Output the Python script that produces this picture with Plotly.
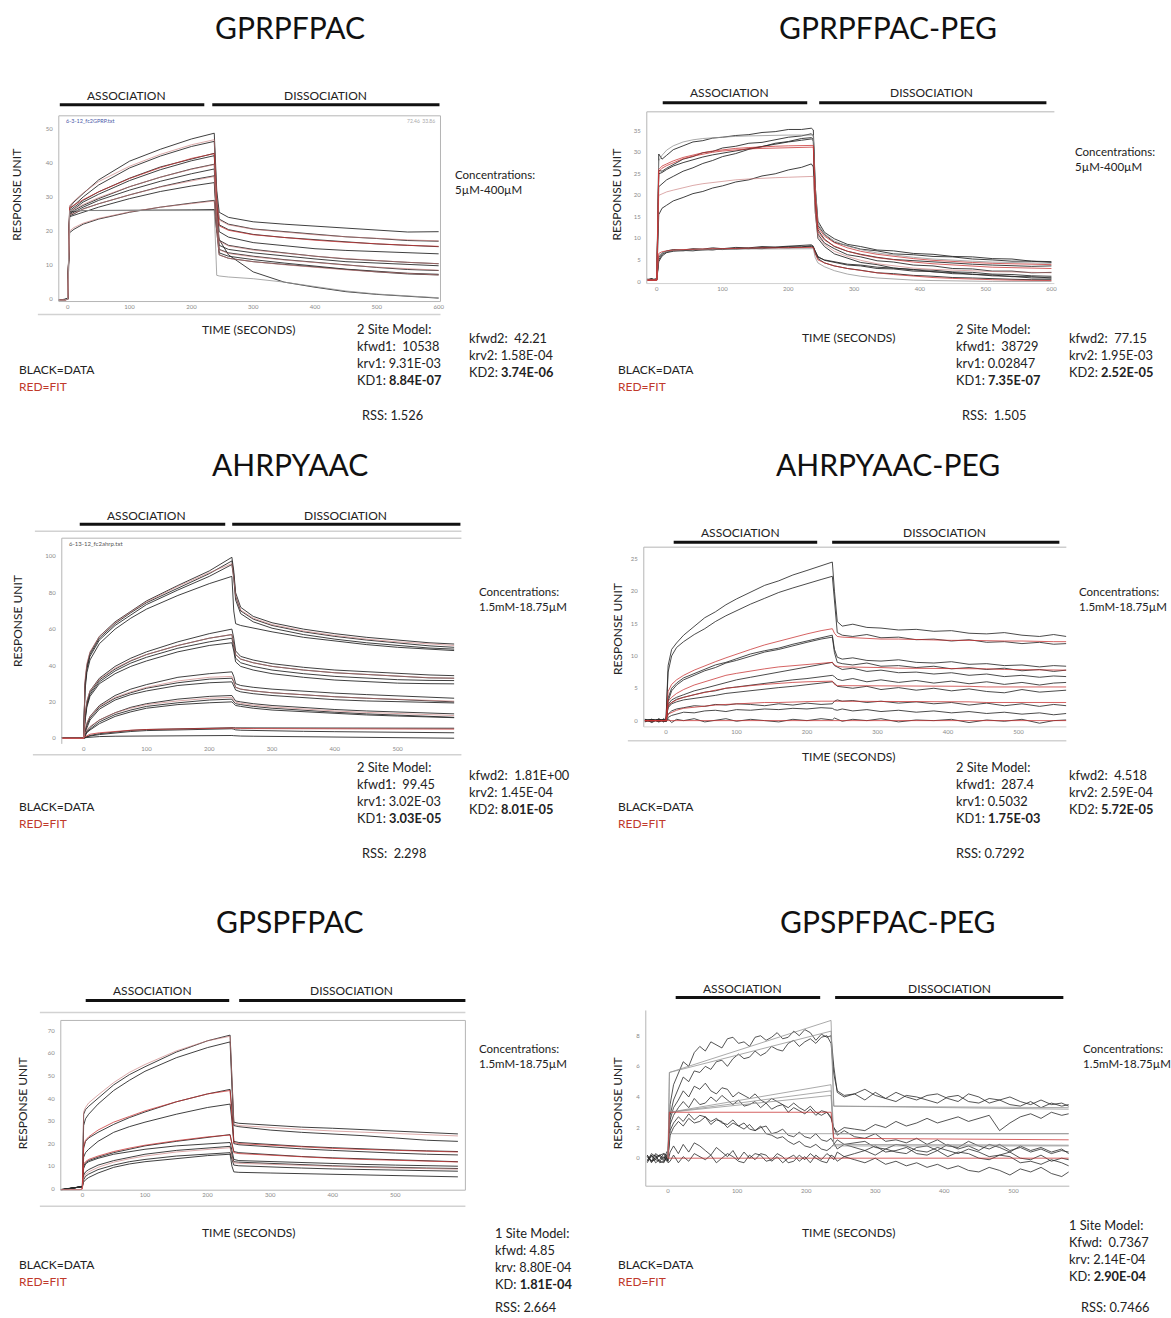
import plotly.graph_objects as go

W, H = 1171, 1318

# ======================= DATA =======================
# Panel 1: GPRPFPAC
t1 = [-15, -5, 0, 3, 10, 25, 50, 100, 150, 200, 237, 241, 245, 260, 300, 350, 400, 450, 500, 550, 600]
p1_data = [
    [-0.3,-0.2,0.0,27.0,28.5,31.0,35.0,40.5,44.0,47.0,48.7,32.0,25.5,24.0,22.7,22.0,21.4,20.9,20.3,19.7,19.8],
    [-0.2,-0.3,0.1,26.5,27.5,30.0,33.5,38.5,42.0,44.8,46.3,30.0,23.5,22.0,20.6,19.8,18.9,18.3,17.8,17.2,17.0],
    [-0.3,-0.1,0.0,26.0,27.0,29.0,31.5,35.5,38.8,41.2,42.8,28.5,21.8,20.4,19.0,18.1,17.4,16.8,16.2,15.8,15.4],
    [-0.2,-0.2,0.0,25.5,26.5,28.5,30.8,34.8,38.0,40.6,42.1,27.0,19.8,18.2,16.6,15.6,14.8,14.3,13.9,13.6,13.3],
    [-0.3,-0.2,0.1,25.0,26.0,27.5,29.5,33.0,35.8,38.2,39.6,25.0,17.3,15.8,14.6,13.5,12.6,11.8,11.2,10.8,10.4],
    [-0.2,-0.1,0.0,24.8,25.5,27.0,29.0,32.0,34.6,36.8,38.2,24.0,15.8,14.6,13.6,12.6,11.8,11.0,10.6,10.2,9.8],
    [-0.3,-0.2,0.0,24.5,25.0,26.5,28.0,30.6,33.0,35.0,36.2,23.0,14.6,13.6,12.6,11.6,10.8,10.0,9.3,8.7,8.4],
    [-0.2,-0.1,0.0,24.2,24.6,25.6,27.0,29.5,31.6,33.2,34.2,22.0,13.6,12.6,11.6,10.6,9.6,8.8,8.2,7.6,7.3],
    [-0.3,-0.2,0.0,19.5,20.5,22.0,23.5,25.5,27.0,28.2,29.0,20.0,13.0,12.0,11.0,10.2,9.4,8.6,8.0,7.4,7.1],
    [-0.3,-0.2,0.0,25.5,25.8,26.0,26.0,26.1,26.2,26.2,26.3,20.0,17.5,13.0,8.0,5.0,3.5,2.2,1.4,0.8,0.3],
]
p1_fit = [
    [-0.3,-0.3,0.0,27.5,28.8,31.2,34.5,39.0,42.5,45.3,46.8,30.0,23.2,21.8,20.5,19.6,18.9,18.3,17.8,17.4,17.1],
    [-0.3,-0.3,0.0,26.8,27.6,29.2,31.5,35.4,38.6,41.3,42.7,28.0,21.5,20.2,18.9,18.0,17.3,16.7,16.2,15.8,15.5],
    [-0.3,-0.3,0.0,25.8,26.4,27.8,29.8,33.0,35.8,38.1,39.5,25.0,17.0,15.6,14.4,13.4,12.6,11.9,11.3,10.8,10.4],
    [-0.3,-0.3,0.0,24.8,25.2,26.4,28.0,30.6,32.9,34.8,36.0,23.0,14.5,13.4,12.4,11.5,10.7,10.0,9.4,8.9,8.5],
    [-0.3,-0.3,0.0,20.0,21.0,22.3,23.7,25.6,27.0,28.1,28.8,20.0,13.0,12.0,11.0,10.1,9.3,8.6,8.0,7.5,7.1],
    [-0.3,-0.3,0.0,26.0,26.0,26.0,26.0,26.0,26.0,26.0,26.0,7.0,6.8,6.5,6.0,5.0,3.6,2.4,1.5,0.9,0.4],
]
p1_fit_colors = ["pink", "red", "pink", "pink", "pink", "gray"]

# Panel 2: GPRPFPAC-PEG
t2 = [-15,-8,-2,0,3,8,15,25,40,55,70,85,100,120,140,160,180,200,220,235,238,241,245,255,270,290,310,335,360,390,420,450,480,510,540,570,600]
p2_data = [
    [0.4,0.6,0.3,0.5, 29.6,28.4,29.3,30.6,31.5,32.4,32.7,33.3,33.5, 33.9,34.1,34.6,34.8,35.3,35.3,35.6,35.2, 22.0,14.0,11.4,9.9,8.6,8.1,7.3,7.1, 6.5,6.3,5.8,5.7,5.3,5.2,4.7,4.6],
    [0.3,0.5,0.4,0.6, 25.8,25.6,26.3,27.2,28.4,29.0,29.9,30.2,31.0, 31.4,32.1,32.3,32.9,33.5,33.8,34.3,33.8, 21.0,13.0,10.9,9.1,8.3,7.5,7.1,6.4, 6.2,5.8,5.7,5.2,5.0,4.7,4.7,4.4],
    [0.5,0.3,0.6,0.4, 25.0,25.3,26.0,26.8,27.6,28.3,28.9,29.4,29.8, 30.4,30.9,31.5,31.9,32.4,32.8,33.1,32.7, 19.5,12.0,9.8,8.1,7.0,6.3,5.6,5.1, 4.8,4.5,4.2,4.0,3.8,3.7,3.5,3.6],
    [0.4,0.5,0.3,0.5, 22.0,22.6,23.6,24.4,25.6,26.4,27.4,28.1,29.0, 29.7,30.7,31.3,32.1,32.5,33.2,33.4,33.0, 18.0,11.0,8.9,7.6,6.2,5.7,4.8,4.5, 3.8,3.6,3.0,2.9,2.4,2.4,2.0,2.1],
    [0.3,0.6,0.4,0.5, 15.5,17.0,17.7,18.7,19.5,20.4,20.9,21.7,22.2, 23.1,23.6,24.5,25.0,25.9,26.5,27.3,26.6, 16.0,10.0,8.1,6.4,5.4,4.4,3.9,3.1, 2.8,2.2,2.1,1.6,1.5,1.1,1.1,0.8],
    [0.4,0.3,0.5,0.6, 5.0,6.3,6.8,7.2,7.1,7.4,7.3,7.5,7.4, 7.7,7.6,7.9,7.8,8.1,8.0,8.3,8.0, 7.0,5.8,4.9,4.5,3.8,3.6,3.0,2.9, 2.4,2.3,1.8,1.7,1.3,1.2,0.8,0.8],
    [0.5,0.4,0.3,0.4, 5.6,6.6,7.1,7.4,7.3,7.6,7.5,7.8,7.6, 7.9,7.8,8.1,8.0,8.2,8.3,8.5,8.2, 6.5,5.3,4.3,3.6,3.0,2.6,2.0,1.8, 1.4,1.2,0.9,0.8,0.6,0.5,0.4,0.4],
    [0.3,0.5,0.4,0.3, 4.6,5.9,6.7,7.0,7.2,7.1,7.4,7.3,7.6, 7.5,7.7,7.6,7.9,7.8,8.0,8.1,7.9, 6.8,5.6,5.0,4.6,4.0,3.8,3.3,3.1, 2.7,2.6,2.2,2.1,1.7,1.6,1.3,1.2],
]
p2_fit = [
    [0.3,0.3,0.3,0.3, 28.0,29.3,30.5,31.5,32.4,32.9,33.2,33.4,33.6, 33.7,33.8,33.9,33.9,34.0,34.0,34.0,34.0, 22.0,13.5,11.0,9.4,8.2,7.4,6.6,6.1, 5.6,5.2,4.9,4.7,4.5,4.4,4.3,4.2],
    [0.3,0.3,0.3,0.3, 20.0,20.4,20.8,21.2,21.8,22.3,22.7,23.0,23.3, 23.6,23.8,24.0,24.1,24.2,24.3,24.4,24.4, 16.0,10.5,8.6,7.0,5.8,4.9,4.1,3.6, 3.1,2.8,2.6,2.4,2.3,2.2,2.1,2.0],
    [0.3,0.3,0.3,0.3, 6.0,6.6,7.0,7.2,7.3,7.4,7.4,7.5,7.5, 7.5,7.6,7.6,7.6,7.6,7.6,7.6,7.6, 5.5,4.3,3.4,2.5,1.7,1.2,0.8,0.5, 0.3,0.2,0.1,0.1,0.0,0.0,0.0,0.0],
    [0.3,0.3,0.3,0.3, 26.0,26.8,27.3,28.0,28.8,29.4,29.9,30.3,30.6, 30.9,31.1,31.3,31.4,31.5,31.6,31.6,31.6, 20.0,12.5,10.5,9.0,7.8,7.0,6.3,5.8, 5.3,4.9,4.6,4.4,4.2,4.1,4.0,3.9],
    [0.3,0.3,0.3,0.3, 25.5,26.3,26.9,27.6,28.5,29.1,29.6,30.0,30.3, 30.6,30.8,30.9,31.0,31.1,31.1,31.2,31.2, 19.0,11.5,9.6,8.2,7.0,6.2,5.5,5.0, 4.5,4.1,3.8,3.5,3.3,3.2,3.1,3.0],
    [0.3,0.3,0.3,0.3, 6.5,6.9,7.1,7.3,7.4,7.5,7.5,7.6,7.6, 7.7,7.7,7.8,7.8,7.8,7.9,7.9,7.9, 6.5,5.0,4.3,3.6,3.0,2.5,2.0,1.6, 1.2,0.9,0.7,0.5,0.4,0.3,0.2,0.2],
]
p2_fit_colors = ["gray", "pink", "gray", "red", "red", "red"]

# Panel 3: AHRPYAAC
t3 = [-35,-20,-5,0,2,5,10,25,50,75,100,150,200,236,239,242,250,270,300,350,400,450,500,550,590]
p3_data = [
    [0.3,0.1,0.2,0, 30,40,47,56,64,70,75.5,84,92,99.5, 92,80,72,67,63.5,60,57.5,55.5,54,52.5,51.8],
    [0.3,0.1,0.2,0, 29,39,46,55,63,69,74.5,82.5,90.5,97.5, 90,78,70,65.5,62,58.5,56,54,52.2,50.8,50],
    [0.3,0.1,0.2,0, 28,38,45,54,62,68,73.5,81.5,89,95.5, 88,76,68.5,64,60.5,57,54.5,52.5,51,49.6,49],
    [0.3,0.1,0.2,0, 26,36,43,52,60,66,71,78.5,85,89, 70,63,62,60.5,58.5,55.5,53.5,51.5,50,48.8,48.2],
    [0.3,0.1,0.2,0, 12,20,26,33,39.5,44,47.5,53,57.5,60, 55,48,45,43,41,39,37.5,36.5,35.5,34.8,34.4],
    [0.3,0.1,0.2,0, 11,19,25,32,38,42.5,46,51,55,57, 52,46,43.5,41.5,39.5,37.5,36,35,34,33.2,33],
    [0.3,0.1,0.2,0, 10,18,24,31,37,41.3,44.5,49.5,53,55, 50,44,41.5,39.5,37.5,35.5,34,33,32.2,31.8,31.7],
    [0.3,0.1,0.2,0, 9,17,23,30,35.5,39.5,42.5,47.5,51,52.5, 48,42,39.5,37.5,35.5,33.5,32,31,30.3,30,29.9],
    [0.3,0.1,0.2,0, 4,8,12,18,23.5,27,29.5,33.5,35.5,36.5, 34,30,29,28,27,25.8,24.8,24,23.3,22.6,22],
    [0.3,0.1,0.2,0, 3.5,7,11,17,22,25,27.5,30.5,32.5,33, 31,28,27,26,25,23.8,22.8,22,21.3,20.6,20],
    [0.3,0.1,0.2,0, 3,6,10,16,21,24,26,29,30.5,31, 29,26.5,25.5,24.5,23.5,22.2,21.2,20.5,20,19.6,19.4],
    [0.3,0.1,0.2,0, 2,4,6,10,14,17,19,21.5,23,23.5, 22,20.5,20,19,18,16.8,15.8,15,14.3,13.8,13.4],
    [0.3,0.1,0.2,0, 1.5,3.5,5,9,13,15.5,17.5,19.5,21,21.5, 20,19,18.5,17.5,16.5,15.3,14.3,13.4,12.6,12,11.5],
    [0.3,0.1,0.2,0, 1,3,4.5,8,12,14.5,16.5,18.5,19.5,20, 19,18,17.5,16.5,15.5,14.5,13.5,12.8,12.2,11.7,11.3],
    [0.3,0.1,0.2,0, 0.5,1,1.5,2.5,3.5,4.3,4.8,5.3,5.6,5.8, 5.8,5.7,5.7,5.6,5.6,5.6,5.5,5.5,5.5,5.5,5.5],
    [0.3,0.1,0.2,0, 0.3,0.7,1.2,2,3,3.7,4.2,4.7,5,5.2, 5,4.6,4.4,4.2,4,3.8,3.6,3.4,3.2,3.1,3],
    [0.3,0.1,0.2,0, 0.2,0.4,0.6,0.9,1.1,1.2,1.3,1.4,1.5,1.5, 1.4,1.3,1.2,1.1,1.0,0.8,0.6,0.5,0.3,0.1,0],
]
p3_fit = [
    [0,0,0,0, 32,41,47.5,56,63.5,69.5,75,83.5,91,96, 88,78,70.5,66,62.5,59,56.5,54.5,53,51.8,51],
    [0,0,0,0, 13,20.5,26,32.5,38.5,42.8,46,51,55,57, 51,46,43.5,41.5,39.5,37.5,36,35,34,33.3,33],
    [0,0,0,0, 5,8.5,12,17.5,22.5,25.5,28,31.5,33.5,34, 31,28,27,26,25,23.8,22.8,22,21.4,20.8,20.4],
    [0,0,0,0, 2.5,4.5,6.5,10,14,16.5,18.5,20.5,22,22.5, 21,19.8,19.2,18.2,17.2,16,15,14.2,13.5,12.9,12.5],
    [0,0,0,0, 0.8,1.5,2.2,3,3.8,4.4,4.8,5.2,5.5,5.6, 5.5,5.4,5.4,5.3,5.3,5.2,5.2,5.1,5.1,5.1,5.0],
]
p3_fit_colors = ["pink", "pink", "pink", "pink", "red"]

# Panel 4: AHRPYAAC-PEG
t4 = [-30,-20,-10,-3,0,3,8,15,25,40,55,70,85,100,120,140,160,180,200,220,236,239,243,250,265,285,305,330,355,380,405,430,455,480,505,530,550,568]
p4_data = [
    [0.2,-0.3,0.3,-0.2,0.1, 8.5,11.0,12.0,13.2,14.6,15.9,16.8,17.9,18.8, 19.8,20.9,21.6,22.5,23.2,23.9,24.5, 20.0,15.3,14.6,14.9,14.4,14.3,14.0,14.1,13.8, 13.9,13.5,13.4,13.6,13.2,13.0,13.3,13.0],
    [-0.1,0.2,-0.2,0.3,0.0, 7.5,10.0,11.3,12.2,13.3,14.2,15.3,16.2,17.0, 18.0,18.9,19.8,20.5,21.2,21.8,22.3, 18.0,13.6,13.2,13.0,13.3,12.8,12.9,12.5,12.6, 12.3,12.5,12.1,12.2,11.9,12.1,11.8,11.9],
    [0.1,-0.2,0.2,-0.1,0.0, 3.5,5.0,5.8,6.6,7.3,7.9,8.6,9.0,9.6, 10.3,10.8,11.2,11.8,12.3,12.8,13.2, 11.0,9.8,9.5,9.7,9.3,9.2,9.4,9.0,8.9, 9.1,8.7,8.8,8.5,8.6,8.3,8.5,8.4],
    [0.0,0.2,-0.1,0.1,-0.2, 3.0,4.6,5.5,6.3,7.0,7.7,8.2,8.9,9.3, 10.0,10.6,11.0,11.6,12.1,12.6,12.9, 10.5,9.0,8.8,8.6,8.9,8.4,8.5,8.2,8.4, 8.0,8.2,7.9,8.1,7.7,7.9,7.6,7.8],
    [0.2,0.0,0.1,-0.2,0.1, 2.5,3.2,3.6,4.0,4.6,5.0,5.4,5.9,6.3, 6.7,7.1,7.5,7.8,8.2,8.6,9.0, 8.5,8.3,7.9,8.1,7.6,7.8,7.4,7.5,7.2, 7.4,7.0,7.2,6.8,7.0,6.7,6.9,6.8],
    [-0.2,0.1,0.0,0.2,-0.1, 2.2,2.8,3.3,3.6,4.0,4.4,4.6,5.0,5.2, 5.5,5.8,6.0,6.3,6.5,6.8,7.0, 6.8,6.4,6.2,6.5,6.0,6.3,5.9,6.2,5.8, 6.1,5.7,6.0,5.6,5.9,5.5,5.8,5.9],
    [0.1,-0.1,0.2,0.0,0.1, 2.0,2.6,2.9,3.2,3.4,3.7,3.9,4.2,4.4, 4.6,4.9,5.1,5.3,5.5,5.8,6.0, 5.8,5.3,5.2,5.0,5.3,4.8,5.1,4.7,5.0, 4.6,4.9,4.5,4.3,4.8,4.4,4.6,4.7],
    [0.0,0.2,-0.2,0.1,0.0, 1.0,1.5,1.8,2.0,2.3,2.2,2.5,2.4,2.6, 2.5,2.3,2.6,2.4,2.7,2.5,2.6, 3.0,3.2,3.0,3.1,2.8,3.0,2.7,2.9,2.6, 2.8,2.4,2.7,2.3,2.6,2.2,2.5,2.3],
    [0.1,0.0,0.2,-0.1,0.1, 0.5,0.8,1.0,1.3,1.2,1.5,1.6,1.4,1.7, 1.6,1.8,1.7,1.9,1.8,2.0,1.9, 1.7,1.6,1.8,1.5,1.7,1.4,1.6,1.3,1.5, 1.2,1.4,1.1,1.3,1.0,1.2,0.9,1.1],
    [-0.1,0.1,0.0,0.2,-0.2, 0.3,-0.3,0.2,0.0,0.3,-0.2,0.1,0.3,-0.1, 0.2,0.0,-0.2,0.2,0.0,0.3,0.1, 0.4,0.2,-0.1,0.2,0.0,0.3,-0.2,0.1,0.0, 0.2,-0.3,0.1,-0.1,0.2,-0.4,0.0,0.1],
]
p4_fit = [
    [0,0,0,0,0, 4.5,5.6,6.3,7.0,7.8,8.5,9.1,9.7,10.3, 11.0,11.7,12.3,12.9,13.4,13.9,14.2, 13.5,13.0,12.9,12.8,12.7,12.6,12.6,12.5,12.5, 12.4,12.4,12.3,12.3,12.3,12.2,12.2,12.2],
    [0,0,0,0,0, 3.0,3.6,4.2,4.8,5.5,6.0,6.5,7.0,7.3, 7.7,8.0,8.3,8.5,8.7,8.9,9.0, 8.6,8.4,8.3,8.3,8.2,8.2,8.1,8.1,8.1, 8.0,8.0,8.0,7.9,7.9,7.9,7.9,7.8],
    [0,0,0,0,0, 2.4,2.8,3.2,3.6,4.0,4.4,4.7,5.0,5.2, 5.4,5.6,5.8,5.9,6.0,6.1,6.1, 5.6,5.4,5.4,5.4,5.4,5.3,5.3,5.3,5.3, 5.3,5.3,5.2,5.2,5.2,5.2,5.2,5.2],
    [0,0,0,0,0, 1.0,1.3,1.6,1.9,2.1,2.3,2.4,2.5,2.6, 2.7,2.8,2.8,2.9,2.9,3.0,3.0, 3.0,3.0,3.0,3.0,2.9,2.9,2.9,2.9,2.9, 2.9,2.9,2.8,2.8,2.8,2.8,2.8,2.8],
    [0,0,0,0,0, 0,0,0,0,0,0,0,0,0, 0,0,0,0,0,0,0, 0,0,0,0,0,0,0,0,0, 0,0,0,0,0,0,0,0],
]
p4_fit_colors = ["red", "red", "red", "red", "red"]

# Panel 5: GPSPFPAC
t5 = [-35,-20,-5,0,2,5,10,25,50,75,100,150,200,236,239,242,250,300,350,400,450,500,550,600]
p5_data = [
    [-0.5,0,0.8,1, 33,35,36.5,40,46,50.5,54,60.5,65.5,68, 50,29.5,29,28,27.3,26.8,26.2,25.5,25,24.3],
    [-0.5,0.2,0.8,1, 28,31,33,37.5,43.5,48,52,58,62.5,65, 45,28,27.5,26,25,24.3,23.5,22.5,21.5,21],
    [-0.3,0.2,0.7,1, 18,21,22.5,25,28.5,31.5,34,38.5,42,44, 35,21,20.5,19.5,18.8,18.2,17.6,17.2,16.8,16.5],
    [-0.4,0.1,0.6,1, 14,16,17.5,21,25,27.5,29.5,33,36,37.5, 30,20,19.5,18.5,17.7,17,16.3,15.8,15.3,15],
    [-0.5,0,0.7,1, 10,11.5,12.5,14,16,17.5,19,21,22.8,24, 20,16.5,16,15,14.3,13.7,13.2,12.8,12.4,12],
    [-0.4,0.1,0.6,1, 9,11,12,13.5,15.3,16.5,17.5,19,20,20.5, 17,13,12.5,12,11.5,11.2,10.8,10.5,10.2,10],
    [-0.5,0,0.6,1, 6,7.5,8.5,10.5,12.5,14,15.3,17,18.2,18.8, 15,12,11.8,11.2,10.7,10.2,9.8,9.4,9.2,9],
    [-0.4,0,0.7,1, 4,5.5,6.5,8.5,10.5,12,13,14.5,15.5,16, 13,10.5,10.2,9.6,9.2,8.8,8.5,8.2,8,7.8],
    [-0.5,0,0.6,1, 3,4,5,7,9.5,11,12,13.5,14.7,15.3, 10,7.5,7.3,7,6.7,6.4,6.1,5.8,5.6,5.3],
]
p5_fit = [
    [-0.5,-0.5,-0.5,0, 34,36,38,41.5,47,51.5,55,61,65.5,67.5, 45,28.5,28,27,26.3,25.6,25,24.4,23.9,23.4],
    [-0.5,-0.5,-0.5,0, 19,21.5,23,26,29.5,32,34.5,38.5,42,43.5, 32,20.5,20,19.2,18.5,17.9,17.4,17,16.6,16.3],
    [-0.5,-0.5,-0.5,0, 11,12,13,14.5,16.5,18,19.3,21.3,23,23.8, 19,16,15.6,14.8,14.1,13.5,13,12.6,12.2,11.9],
    [-0.5,-0.5,-0.5,0, 5,6.3,7.5,9.5,11.8,13.3,14.5,16.3,17.6,18.2, 14,11.5,11.3,10.8,10.3,9.9,9.5,9.2,8.9,8.7],
]
p5_fit_colors = ["pink", "red", "red", "pink"]

# Panel 6: GPSPFPAC-PEG
t6 = [-30,-24,-18,-12,-6,-2, 0,3,8,15,22, 30,38,46,54,62,70,78,86,94,102,
      110,118,126,134,142,150,158,166,174,182, 190,198,206,214,222,230,236,240,
      245,255,270,285,300,315,330,345,360,375, 390,405,420,435,450,465,480,495,510,525, 540,555,570,580]
p6_data = [
    [0.2,-0.3,0.1,0.2,-0.1,0.4, 0.5,3.5,4.8,5.6,6.3, 6.0,6.9,7.3,7.0,7.6,7.4,7.2,7.8,7.9,7.5,
     7.6,7.3,7.9,8.0,7.7,7.9,8.2,7.8,7.9,8.3, 8.0,8.4,8.2,7.7,8.1,7.9,8.0,6.0,
     4.3,4.0,4.2,4.5,4.1,3.9,4.3,4.0,3.8,4.1, 4.2,3.9,3.7,4.2,4.0,3.6,3.8,4.0,3.7,3.5, 3.8,3.5,3.6,3.4],
    [-0.1,0.2,-0.3,-0.1,0.3,0.2, 0.3,2.8,3.8,4.6,5.3, 5.0,5.7,5.6,6.0,5.8,6.3,6.4,6.0,6.5,6.8,
     6.5,6.6,7.0,6.7,6.9,7.3,7.1,7.0,7.5,7.7, 7.3,7.6,7.8,7.5,7.9,8.0,7.5,5.5,
     4.4,4.1,4.2,3.8,4.3,3.9,3.7,4.1,4.0,3.8, 3.6,4.0,4.1,3.7,3.6,3.9,3.8,3.5,3.4,3.7, 3.3,3.6,3.4,3.5],
    [0.1,-0.2,0.3,0.1,-0.2,0.0, 0.2,2.5,3.3,3.8,4.4, 4.0,4.7,4.5,4.9,4.4,4.2,4.6,4.5,4.0,4.3,
     4.1,3.9,4.2,3.8,3.6,3.9,3.7,3.5,3.3,3.6, 3.3,3.1,3.4,3.0,2.8,3.0,2.7,2.0,
     1.5,1.8,1.4,1.3,1.6,1.1,1.2,1.0,1.3,0.9, 1.2,0.8,0.7,1.1,0.8,0.6,0.9,0.5,0.7,0.4, 0.6,0.3,0.5,0.4],
    [-0.2,0.1,0.2,-0.3,-0.2,0.1, 0.0,2.2,2.8,3.3,3.7, 3.3,3.9,3.5,3.6,4.0,3.7,4.1,3.8,3.5,3.8,
     3.4,3.5,3.7,3.3,3.6,3.2,3.4,3.5,3.0,3.3, 3.1,2.9,3.2,2.8,3.1,3.0,2.6,2.0,
     1.7,2.0,1.9,1.8,2.2,2.0,2.4,2.1,2.3,2.6, 2.3,2.5,2.7,2.4,2.6,2.8,1.8,2.3,2.7,2.9, 2.6,3.0,2.8,2.9],
    [0.2,-0.2,0.0,0.2,0.3,-0.1, 0.1,1.8,2.3,2.7,2.4, 2.9,2.5,2.8,2.7,2.4,2.6,2.3,2.2,2.5,2.1,
     2.3,1.9,1.8,2.1,1.6,1.5,1.3,1.4,1.1,0.9, 1.1,0.8,0.7,0.9,0.6,0.5,0.7,0.9,
     1.2,0.9,1.0,1.1,0.7,0.6,0.9,0.8,0.5,0.4, 0.7,0.5,0.3,0.6,0.4,0.1,0.2,0.4,0.0,-0.1, 0.2,-0.2,0.0,-0.1],
    [-0.3,0.2,-0.1,-0.2,0.1,-0.2, 0.0,1.5,2.0,2.4,2.1, 2.6,2.3,2.4,2.7,2.2,2.5,2.4,2.0,2.3,2.1,
     1.9,2.2,1.8,2.0,2.1,1.6,1.7,1.9,1.5,1.4, 1.7,1.4,1.3,1.6,1.2,1.1,1.3,1.0,
     0.6,0.9,0.7,0.5,0.8,0.4,0.5,0.7,0.3,0.2, 0.5,0.1,0.4,0.3,0.0,-0.1,0.2,0.1,-0.3,-0.2, -0.4,-0.1,-0.3,-0.5],
    [0.1,-0.2,-0.1,0.2,0.0,0.2, -0.2,0.4,0.8,0.3,0.9, 0.4,1.0,0.8,0.5,0.2,0.7,0.4,0.1,0.5,-0.1,
     0.4,0.0,0.3,0.2,-0.2,-0.1,0.3,0.1,-0.3,-0.2, 0.2,-0.1,0.3,0.0,-0.2,-0.3,0.2,0.1,
     -0.2,0.1,-0.1,-0.3,0.0,-0.4,-0.2,-0.5,-0.3,-0.6, -0.4,-0.7,-0.5,-0.8,-0.9,-0.6,-0.8,-1.1,-0.7,-0.9, -0.6,-1.0,-1.2,-0.9],
    [-0.2,0.3,0.1,-0.2,-0.3,0.1, -0.3,-0.2,0.2,-0.3,0.1, -0.2,0.3,0.1,-0.1,0.2,-0.3,0.0,0.3,0.1,-0.2,
     -0.3,0.2,-0.1,0.3,0.2,-0.2,0.1,-0.3,0.0,0.2, -0.2,0.1,-0.3,0.2,-0.1,0.3,0.1,-0.1,
     0.4,0.1,0.3,0.5,0.2,0.6,0.4,0.3,0.7,0.8, 0.5,0.9,0.6,0.8,0.5,0.9,0.7,0.4,0.8,0.5, 0.7,0.4,0.6,0.3],
]
t6_fit = [0, 2, 236, 240, 580]
p6_fit = [
    [0, 5.6, 9.0, 3.4, 3.3],
    [0, 5.6, 8.3, 3.4, 3.2],
    [0, 3.0, 4.8, 1.6, 1.6],
    [0, 3.0, 4.4, 0.9, 0.85],
    [0, 3.0, 4.1, 0.8, 0.8],
    [0, 1.6, 1.6, 1.6, 1.6],
    [0, 3.0, 3.0, 1.3, 1.2],
    [0, 0.0, 0.0, 0.0, 0.0],
]
p6_fit_colors = ["gray", "gray", "gray", "gray", "gray", "gray", "red", "red"]

titles = ["GPRPFPAC", "GPRPFPAC-PEG", "AHRPYAAC", "AHRPYAAC-PEG", "GPSPFPAC", "GPSPFPAC-PEG"]

# ======================= LAYOUT HELPERS =======================
def px(x):
    return x / W

def py(y):
    return 1 - y / H

FONT = "Lato, 'Open Sans', sans-serif"
DATA_COLOR = "#2a2a2a"
FIT_COLOR = {"red": "rgba(200,50,50,0.85)", "gray": "rgba(150,150,150,0.9)",
             "pink": "rgba(200,120,120,0.7)"}

panels = [
    dict(t=t1, data=p1_data, fit_t=t1, fits=p1_fit, fc=p1_fit_colors,
         box=(59, 116, 442, 302), xr=(-14.5, 603), yr=(-0.7, 53.8),
         xt=[0, 100, 200, 300, 400, 500, 600], yt=[0, 10, 20, 30, 40, 50], lw=0.9),
    dict(t=t2, data=p2_data, fit_t=t2, fits=p2_fit, fc=p2_fit_colors,
         box=(649, 112, 1057, 284), xr=(-15.2, 603), yr=(-0.5, 39.4),
         xt=[0, 100, 200, 300, 400, 500, 600], yt=[0, 5, 10, 15, 20, 25, 30, 35], lw=0.9),
    dict(t=t3, data=p3_data, fit_t=t3, fits=p3_fit, fc=p3_fit_colors,
         box=(62, 539, 463, 745), xr=(-34.9, 601.6), yr=(-3.1, 110),
         xt=[0, 100, 200, 300, 400, 500], yt=[0, 20, 40, 60, 80, 100], lw=0.9),
    dict(t=t4, data=p4_data, fit_t=t4, fits=p4_fit, fc=p4_fit_colors,
         box=(646, 548, 1070, 728), xr=(-31.5, 568), yr=(-0.97, 26.8),
         xt=[0, 100, 200, 300, 400, 500], yt=[0, 5, 10, 15, 20, 25], lw=0.85),
    dict(t=t5, data=p5_data, fit_t=t5, fits=p5_fit, fc=p5_fit_colors,
         box=(61, 1022, 467, 1192), xr=(-34.5, 612), yr=(-0.6, 74.5),
         xt=[0, 100, 200, 300, 400, 500], yt=[0, 10, 20, 30, 40, 50, 60, 70], lw=0.9),
    dict(t=t6, data=p6_data, fit_t=t6_fit, fits=p6_fit, fc=p6_fit_colors,
         box=(648, 1012, 1073, 1188), xr=(-32.2, 581), yr=(-1.83, 9.65),
         xt=[0, 100, 200, 300, 400, 500], yt=[0, 2, 4, 6, 8], lw=0.8),
]

fig = go.Figure()
layout = dict(width=W, height=H, margin=dict(l=0, r=0, t=0, b=0),
              paper_bgcolor="white", plot_bgcolor="white", showlegend=False,
              font=dict(family=FONT, color="#222"))
shapes = []
annotations = []

for i, p in enumerate(panels):
    n = i + 1
    xa = "x" if n == 1 else f"x{n}"
    ya = "y" if n == 1 else f"y{n}"
    L, T, R, B = p["box"]
    layout[f"xaxis{'' if n == 1 else n}"] = dict(
        domain=[px(L), px(R)], range=list(p["xr"]), anchor=ya,
        showgrid=False, zeroline=False, showline=False, ticks="",
        tickvals=p["xt"], tickfont=dict(size=6, color="#8a8a8a"))
    layout[f"yaxis{'' if n == 1 else n}"] = dict(
        domain=[py(B), py(T)], range=list(p["yr"]), anchor=xa,
        showgrid=False, zeroline=False, showline=False, ticks="",
        tickvals=p["yt"], tickfont=dict(size=6, color="#8a8a8a"),
        ticklabelstandoff=5)
    for ys in p["data"]:
        fig.add_trace(go.Scatter(x=p["t"], y=ys, mode="lines", xaxis=xa, yaxis=ya,
                                 line=dict(color=DATA_COLOR, width=p["lw"]), hoverinfo="skip"))
    for ys, c in zip(p["fits"], p["fc"]):
        fig.add_trace(go.Scatter(x=p["fit_t"], y=ys, mode="lines", xaxis=xa, yaxis=ya,
                                 line=dict(color=FIT_COLOR[c], width=0.9), hoverinfo="skip"))

def hline(x0, x1, y, color, width):
    shapes.append(dict(type="line", xref="paper", yref="paper",
                       x0=px(x0), x1=px(x1), y0=py(y), y1=py(y),
                       line=dict(color=color, width=width)))

def vline(x, y0, y1, color, width):
    shapes.append(dict(type="line", xref="paper", yref="paper",
                       x0=px(x), x1=px(x), y0=py(y0), y1=py(y1),
                       line=dict(color=color, width=width)))

FR = "#b5b5b5"
# frames
hline(59, 442, 116, FR, 1); hline(59, 442, 302, FR, 1); vline(59, 116, 302, FR, 1); vline(442, 116, 302, FR, 1)
hline(649, 1058, 112, FR, 1); vline(649, 112, 284, FR, 1); hline(649, 1058, 284, "#d0d0d0", 1)
hline(62, 463, 539, FR, 1); vline(62, 539, 745, FR, 1)
hline(646, 1070, 548, FR, 1); vline(646, 548, 728, FR, 1); hline(646, 1070, 728, "#d0d0d0", 1)
hline(61, 467, 1022, FR, 1); hline(61, 467, 1192, FR, 1); vline(61, 1022, 1192, FR, 1); vline(467, 1022, 1192, FR, 1)
vline(648, 1012, 1188, FR, 1); hline(648, 1073, 1188, FR, 1)

# separator gray lines
hline(38, 442, 315, "#d2d2d2", 1.5)
hline(35, 463, 532, "#d2d2d2", 1.5)
hline(33, 463, 756, "#d2d2d2", 1.5)
hline(630, 1070, 742, "#d2d2d2", 1.5)
hline(40, 467, 1014, "#d2d2d2", 1.5)
hline(40, 467, 1208, "#d2d2d2", 1.5)

bars = [
    (60, 205, 213, 441, 105, 127, 327, 96),
    (665, 810, 822, 1050, 103, 732, 935, 93),
    (80, 226, 233, 462, 525, 147, 347, 516),
    (676, 820, 835, 1063, 543, 743, 948, 533),
    (86, 230, 240, 467, 1002, 153, 353, 992),
    (678, 823, 838, 1067, 999, 745, 953, 990),
]

def text(x, y, s, size=12, color="#222", xanchor="left", angle=0):
    annotations.append(dict(x=px(x), y=py(y), xref="paper", yref="paper", text=s,
                            showarrow=False, xanchor=xanchor, yanchor="middle",
                            textangle=angle, font=dict(size=size, color=color, family=FONT)))

for a0, a1, d0, d1, yb, ax, dx, yl in bars:
    hline(a0, a1, yb, "#111", 3)
    hline(d0, d1, yb, "#111", 3)
    text(ax, yl, "ASSOCIATION", 12, xanchor="center")
    text(dx, yl, "DISSOCIATION", 12, xanchor="center")

for (s, x, y) in zip(titles, [291, 891, 291, 891, 291, 891], [27, 27, 465, 465, 922, 922]):
    text(x, y, s, 30, "#111", xanchor="center")

for (x, y) in [(17, 195), (619, 195), (17, 622), (619, 630), (22, 1105), (619, 1105)]:
    text(x, y, "RESPONSE UNIT", 12, xanchor="center", angle=-90)

for (x, y) in [(250, 330), (852, 338), (852, 758), (250, 1234), (852, 1234)]:
    text(x, y, "TIME (SECONDS)", 12, xanchor="center")

text(64, 121, "6-3-12_fc2GPRP.txt", 5.5, "#4a5aa8")
text(438, 121, "72.46  33.86", 5, "#aaaaaa", xanchor="right")
text(67, 544, "6-13-12_fc2ahrp.txt", 6, "#555555")

RED = "#c0392b"
for (x, y, c) in [(455, 175, "5µM-400µM"), (1077, 152, "5µM-400µM"),
                  (479, 592, "1.5mM-18.75µM"), (1081, 592, "1.5mM-18.75µM"),
                  (479, 1050, "1.5mM-18.75µM"), (1085, 1050, "1.5mM-18.75µM")]:
    text(x, y, "Concentrations:", 11.5)
    text(x, y + 15, c, 11.5)

for (x, y) in [(17, 370), (618, 370), (17, 808), (618, 808), (17, 1266), (618, 1266)]:
    text(x, y, "BLACK=DATA", 12)
    text(x, y + 17, "RED=FIT", 12, RED)

PS = 12.8

def block(x, y, lines, step=17):
    for k, s in enumerate(lines):
        text(x, y + k * step, s, PS)

block(356, 330, ["2 Site Model:", "kfwd1:  10538", "krv1: 9.31E-03", "KD1: <b>8.84E-07</b>"])
block(469, 339, ["kfwd2:  42.21", "krv2: 1.58E-04", "KD2: <b>3.74E-06</b>"])
text(361, 416, "RSS: 1.526", PS)

block(957, 330, ["2 Site Model:", "kfwd1:  38729", "krv1: 0.02847", "KD1: <b>7.35E-07</b>"])
block(1071, 339, ["kfwd2:  77.15", "krv2: 1.95E-03", "KD2: <b>2.52E-05</b>"])
text(963, 416, "RSS:  1.505", PS)

block(356, 768, ["2 Site Model:", "kfwd1:  99.45", "krv1: 3.02E-03", "KD1: <b>3.03E-05</b>"])
block(469, 776, ["kfwd2:  1.81E+00", "krv2: 1.45E-04", "KD2: <b>8.01E-05</b>"])
text(361, 854, "RSS:  2.298", PS)

block(957, 768, ["2 Site Model:", "kfwd1:  287.4", "krv1: 0.5032", "KD1: <b>1.75E-03</b>"])
block(1071, 776, ["kfwd2:  4.518", "krv2: 2.59E-04", "KD2: <b>5.72E-05</b>"])
text(957, 854, "RSS: 0.7292", PS)

block(495, 1235, ["1 Site Model:", "kfwd: 4.85", "krv: 8.80E-04", "KD: <b>1.81E-04</b>"])
text(495, 1309, "RSS: 2.664", PS)

block(1071, 1227, ["1 Site Model:", "Kfwd:  0.7367", "krv: 2.14E-04", "KD: <b>2.90E-04</b>"])
text(1083, 1309, "RSS: 0.7466", PS)

layout["shapes"] = shapes
layout["annotations"] = annotations
fig.update_layout(**layout)
fig.write_html("out.html",
               config={"displayModeBar": False},
               post_script="document.body.style.margin='0';document.body.style.padding='0';")
